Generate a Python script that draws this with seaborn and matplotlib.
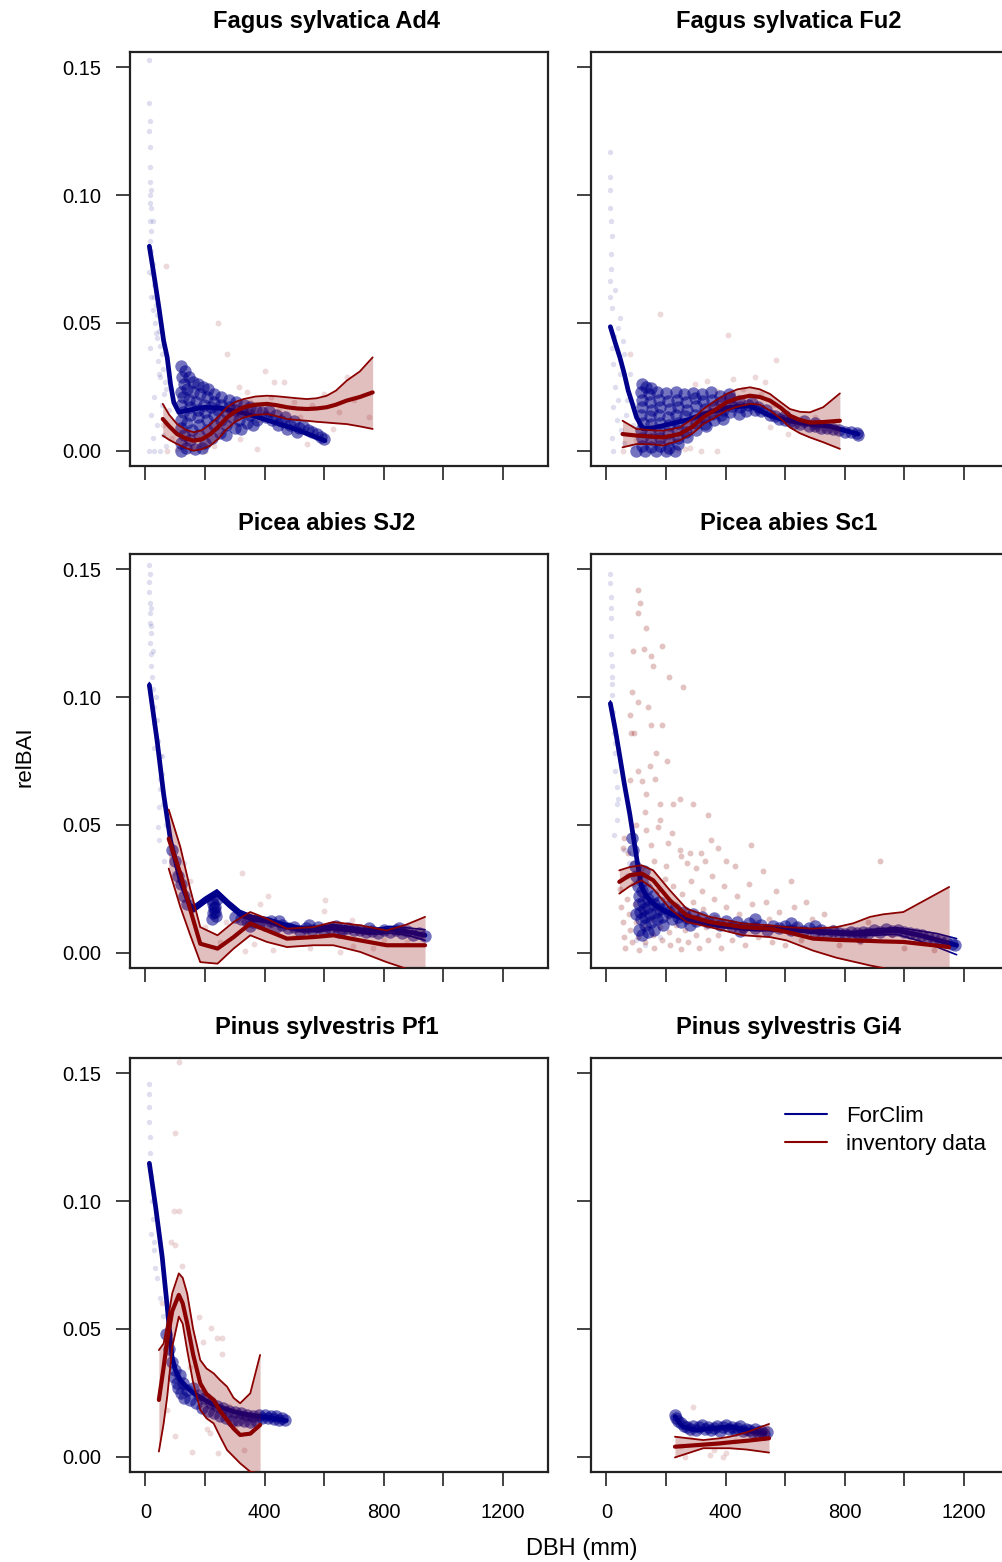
import matplotlib
matplotlib.use("Agg")
import matplotlib.pyplot as plt
import seaborn as sns
import pandas as pd
from matplotlib.lines import Line2D

# ---------------- text / axes ----------------
TITLES = ["Fagus sylvatica Ad4", "Fagus sylvatica Fu2",
          "Picea abies SJ2", "Picea abies Sc1",
          "Pinus sylvestris Pf1", "Pinus sylvestris Gi4"]
X_TICKS = [0, 200, 400, 600, 800, 1000, 1200]
X_TICK_LABELS = ["0", "", "400", "", "800", "", "1200"]
Y_TICKS = [0.0, 0.05, 0.10, 0.15]
Y_TICK_LABELS = ["0.00", "0.05", "0.10", "0.15"]
LEGEND_LABELS = ["ForClim", "inventory data"]

# ---------------- Ad4 ----------------
AD4_BLUE_SPARSE = [(12,0.153),(12,0.136),(15,0.129),(13,0.125),(14,0.119),(14,0.111),(15,0.105),(16,0.100),
    (17,0.095),(16,0.090),(18,0.086),(15,0.082),(20,0.078),(25,0.073),(22,0.069),(28,0.065),(30,0.060),
    (35,0.057),(40,0.053),(32,0.050),(45,0.047),(38,0.044),(50,0.041),(55,0.038),(42,0.035),(60,0.032),
    (48,0.029),(65,0.027),(70,0.024),(30,0.021),(55,0.018),(80,0.016),(20,0.014),(40,0.010),(60,0.006),
    (12,0.0),(30,0.0),(50,0.0),(25,0.005),(70,0.002),(15,0.040),(20,0.060),(25,0.090),(12,0.070),
    (18,0.102),(14,0.097),(26,0.055),(34,0.046),(45,0.030),(62,0.022)]
AD4_BLUE_DENSE = [(118,0.033),(132,0.031),(121,0.029),(145,0.029),(160,0.027),(128,0.026),(175,0.026),
    (192,0.025),(140,0.024),(210,0.024),(118,0.023),(158,0.023),(230,0.022),(182,0.022),(255,0.021),
    (125,0.021),(205,0.021),(145,0.020),(280,0.020),(170,0.019),(230,0.019),(120,0.018),(305,0.019),
    (195,0.018),(255,0.018),(150,0.017),(330,0.018),(280,0.017),(220,0.017),(350,0.017),(125,0.015),
    (175,0.016),(245,0.016),(300,0.016),(370,0.016),(200,0.015),(150,0.014),(270,0.015),(325,0.015),
    (390,0.015),(230,0.014),(120,0.012),(175,0.013),(350,0.014),(290,0.013),(205,0.012),(255,0.012),
    (140,0.011),(315,0.012),(375,0.012),(405,0.013),(180,0.010),(230,0.010),(270,0.010),(120,0.009),
    (340,0.011),(155,0.008),(205,0.008),(300,0.009),(250,0.007),(130,0.006),(180,0.006),(225,0.005),
    (120,0.003),(150,0.004),(200,0.003),(135,0.001),(165,0.0005),(120,0.0),(190,0.001),(270,0.006),
    (320,0.0085),(360,0.010),(425,0.012),(440,0.014),(455,0.0115),(470,0.013),(485,0.010),(500,0.0115),
    (515,0.009),(530,0.0095),(545,0.008),(560,0.0075),(575,0.0065),(590,0.0055),(600,0.0045),
    (445,0.010),(475,0.0085),(510,0.0075),(415,0.0155)]
AD4_RED_PTS = [(70,0.0724),(242,0.0498),(274,0.038),(400,0.031),(430,0.027),(464,0.0267),(676,0.0287),
    (374,0.0007),(542,0.0026),(631,0.0085),(313,0.025),(341,0.0228),(318,0.0046),(73,0.0),(106,0.0007),
    (150,0.0),(60,0.010),(90,0.005),(120,0.001),(180,0.004),(200,0.0),(250,0.006),(280,0.015),(300,0.010),
    (350,0.019),(380,0.012),(420,0.021),(450,0.016),(500,0.019),(520,0.013),(560,0.018),(600,0.022),
    (650,0.015),(700,0.020),(750,0.013),(230,0.002),(160,0.001)]
AD4_BLUE_FIT_X = [13,28,45,61,73,84,95,112,150,200,260,320,397,440,486,540,603]
AD4_BLUE_FIT_Y = [0.080,0.0691,0.0561,0.043,0.0365,0.0261,0.0189,0.015,0.016,0.017,0.0165,0.015,0.0124,
    0.0108,0.0091,0.0068,0.0039]
AD4_RED_X = [58,80,106,135,162,190,218,246,274,300,330,370,408,440,475,510,542,575,609,640,676,720,763]
AD4_RED_FIT = [0.0124,0.0095,0.0065,0.0048,0.0039,0.0045,0.0065,0.0095,0.013,0.0152,0.017,0.018,0.0183,
    0.0178,0.017,0.0165,0.0163,0.0165,0.017,0.018,0.0196,0.021,0.0228]
AD4_RED_HI = [0.0183,0.0140,0.0104,0.0082,0.0072,0.0080,0.0104,0.0135,0.017,0.0190,0.0202,0.0212,0.0215,
    0.0213,0.0209,0.0205,0.0202,0.0205,0.0215,0.0235,0.0274,0.031,0.0365]
AD4_RED_LO = [0.0059,0.0042,0.0026,0.0010,0.000,0.0006,0.002,0.0048,0.0085,0.0112,0.013,0.0140,0.0143,
    0.0135,0.0124,0.012,0.0117,0.0113,0.011,0.0107,0.0104,0.0095,0.0085]

# ---------------- Fu2 ----------------
FU2_BLUE_SPARSE = [(13,0.117),(13,0.107),(13,0.102),(13,0.095),(15,0.090),(18,0.084),(15,0.077),
    (13,0.0665),(28,0.063),(13,0.060),(17,0.056),(45,0.052),(40,0.048),(55,0.043),(22,0.034),(45,0.030),
    (22,0.017),(17,0.005),(22,0.0),(30,0.025),(60,0.038),(35,0.012),(50,0.008),(70,0.020),(25,0.045),
    (80,0.030),(60,0.003),(14,0.071),(20,0.040),(40,0.020),(65,0.014),(90,0.010),(85,0.002),(100,0.018)]
FU2_BLUE_DENSE = [(118,0.026),(132,0.025),(150,0.0245),(115,0.023),(142,0.022),(170,0.023),(200,0.0225),
    (232,0.023),(262,0.022),(290,0.0225),(322,0.022),(352,0.023),(380,0.0215),(410,0.022),(118,0.020),
    (146,0.019),(176,0.020),(205,0.0195),(236,0.020),(266,0.019),(296,0.0205),(325,0.0195),(355,0.020),
    (386,0.019),(415,0.0205),(446,0.0195),(120,0.017),(152,0.016),(180,0.017),(212,0.0165),(240,0.017),
    (270,0.016),(300,0.0175),(330,0.0165),(362,0.017),(390,0.016),(420,0.0175),(450,0.017),(476,0.018),
    (115,0.014),(147,0.0135),(175,0.014),(205,0.013),(235,0.014),(265,0.0135),(296,0.014),(326,0.013),
    (355,0.0145),(385,0.014),(415,0.015),(445,0.0145),(470,0.0155),(122,0.011),(150,0.0105),(180,0.011),
    (210,0.010),(240,0.011),(270,0.0105),(300,0.011),(330,0.0105),(362,0.012),(392,0.0125),(116,0.008),
    (146,0.0075),(176,0.008),(206,0.007),(236,0.008),(266,0.0075),(300,0.008),(335,0.0095),(118,0.005),
    (150,0.0045),(180,0.005),(210,0.004),(240,0.005),(272,0.0055),(120,0.002),(150,0.0015),(180,0.002),
    (210,0.001),(240,0.0025),(100,0.0),(130,0.0),(165,0.0),(200,0.0),(230,0.0),
    (490,0.0185),(500,0.016),(510,0.017),(520,0.0155),(535,0.016),(550,0.014),(565,0.0135),(580,0.0125),
    (600,0.012),(615,0.0115),(630,0.011),(650,0.0105),(665,0.0115),(680,0.0098),(700,0.0095),(720,0.009),
    (740,0.0088),(760,0.0085),(780,0.008),(800,0.0075),(820,0.0072),(840,0.0068),(845,0.0062),
    (600,0.0135),(700,0.011)]
FU2_RED_PTS = [(179,0.0535),(409,0.0453),(568,0.0356),(78,0.0378),(498,0.0287),(532,0.0267),(425,0.028),
    (297,0.026),(336,0.0274),(370,0.0235),(549,0.0091),(610,0.0065),(319,0.0),(370,0.0),(263,0.0007),
    (213,0.0007),(56,0.0),(100,0.004),(150,0.010),(250,0.012),(320,0.015),(420,0.020),(460,0.024),
    (520,0.022),(560,0.018),(640,0.012),(700,0.013),(760,0.010),(200,0.0),(280,0.001),(240,0.0003)]
FU2_BLUE_FIT_X = [13,30,45,60,73,88,101,123,160,213,270,325,370,414,482,549,600,661,750,845]
FU2_BLUE_FIT_Y = [0.0485,0.042,0.0365,0.030,0.0235,0.018,0.013,0.0085,0.009,0.0104,0.012,0.0143,0.0157,
    0.017,0.0176,0.0137,0.012,0.0107,0.0095,0.0065]
FU2_RED_X = [54,101,150,190,246,290,325,365,403,440,482,515,549,585,616,650,683,728,784]
FU2_RED_FIT = [0.0065,0.0059,0.0055,0.0052,0.0065,0.0095,0.013,0.016,0.0189,0.0205,0.0215,0.0210,0.0196,
    0.0168,0.0137,0.0120,0.011,0.0112,0.0117]
FU2_RED_HI = [0.0117,0.0085,0.008,0.0078,0.0091,0.0125,0.0163,0.0195,0.0222,0.024,0.0248,0.0240,0.0222,
    0.019,0.0163,0.0152,0.015,0.017,0.0224]
FU2_RED_LO = [0.0013,0.0026,0.0025,0.002,0.004,0.0068,0.0104,0.013,0.0157,0.0172,0.0183,0.018,0.0157,
    0.0125,0.0091,0.0068,0.0052,0.0033,0.0007]

# ---------------- SJ2 ----------------
SJ2_BLUE_SPARSE = [(13,0.1517),(14,0.148),(13,0.141),(15,0.137),(15,0.133),(15,0.129),(17,0.125),
    (15,0.121),(17,0.117),(20,0.112),(22,0.108),(25,0.103),(30,0.096),(39,0.091),(42,0.083),(48,0.077),
    (56,0.077),(56,0.070),(48,0.064),(45,0.057),(41,0.049),(45,0.044),(30,0.090),(28,0.080),(61,0.036),
    (95,0.031),(128,0.035),(150,0.0179),(20,0.128),(25,0.118),(35,0.100),(50,0.068),(60,0.058),(70,0.050),
    (12,0.145),(18,0.135)]
SJ2_BLUE_DENSE = [(222,0.0205),(226,0.019),(230,0.0175),(233,0.016),(238,0.0145),(228,0.0155),(235,0.018),
    (240,0.021),(225,0.013),(90,0.040),(100,0.036),(110,0.030),(120,0.027),(130,0.022),(140,0.019),
    (300,0.014),(320,0.013),(340,0.0125),(360,0.012),(380,0.0115),(400,0.011),(420,0.0125),(440,0.010),
    (460,0.011),(480,0.0095),(500,0.010),(520,0.0085),(540,0.0095),(560,0.009),(580,0.010),(600,0.0085),
    (620,0.0095),(640,0.0105),(660,0.009),(680,0.0098),(700,0.0088),(720,0.009),(740,0.008),(760,0.0085),
    (780,0.0078),(800,0.0088),(820,0.0082),(840,0.009),(860,0.0078),(880,0.0085),(900,0.007),(920,0.0075),
    (940,0.0065),(350,0.0105),(450,0.0125),(550,0.011),(650,0.008),(750,0.0095),(850,0.0095)]
SJ2_RED_PTS = [(324,0.0313),(413,0.022),(383,0.019),(603,0.0208),(600,0.0163),(693,0.0127),(428,0.0009),
    (335,0.0007),(654,0.0003),(363,0.0035),(765,0.002),(698,0.0025),(553,0.002),(270,0.012),(500,0.006),
    (800,0.005),(880,0.004),(150,0.028),(200,0.010),(250,0.004)]
SJ2_BLUE_FIT_X = [13,39,61,84,117,151,162,200,240,280,318,360,408,460,520,580,631,690,743,790,821,880,939]
SJ2_BLUE_FIT_Y = [0.1047,0.083,0.062,0.044,0.028,0.0179,0.0172,0.0205,0.0234,0.019,0.0153,0.0135,0.0127,
    0.0108,0.0092,0.0092,0.010,0.0092,0.0083,0.0085,0.009,0.0082,0.0068]
SJ2_BLUE_HI = [0.1057,0.084,0.063,0.045,0.029,0.0191,0.0184,0.0217,0.0246,0.0202,0.0165,0.0145,0.0137,
    0.0118,0.0102,0.0102,0.011,0.0102,0.0093,0.0097,0.0103,0.0097,0.0090]
SJ2_BLUE_LO = [0.1037,0.082,0.061,0.043,0.027,0.0167,0.016,0.0193,0.0222,0.0178,0.0141,0.0125,0.0117,
    0.0098,0.0082,0.0082,0.009,0.0082,0.0073,0.0073,0.0077,0.0068,0.0048]
SJ2_RED_X = [78,117,150,184,242,296,352,408,475,564,631,721,810,877,939]
SJ2_RED_FIT = [0.0446,0.031,0.017,0.0035,0.0016,0.0061,0.0114,0.0087,0.0055,0.0061,0.0068,0.0048,0.0029,
    0.0029,0.0029]
SJ2_RED_HI = [0.056,0.0414,0.025,0.010,0.0068,0.012,0.0159,0.0133,0.0094,0.010,0.012,0.0107,0.0087,0.0110,
    0.014]
SJ2_RED_LO = [0.0329,0.0179,0.007,-0.0037,-0.0043,0.0016,0.0068,0.0042,0.0022,0.0029,0.0029,0.0003,
    -0.0037,-0.0063,-0.007]

# ---------------- Sc1 ----------------
SC1_BLUE_SPARSE = [(13,0.148),(13,0.1445),(15,0.1347),(15,0.131),(15,0.124),(15,0.117),(17,0.112),
    (17,0.105),(17,0.101),(22,0.094),(25,0.086),(28,0.078),(28,0.071),(34,0.065),(34,0.058),(34,0.052),
    (26,0.046),(15,0.139),(20,0.108),(30,0.082),(40,0.060),(60,0.040),(75,0.035),(100,0.005),(130,0.003),
    (180,0.006)]
SC1_BLUE_DENSE = [(100,0.030),(105,0.026),(108,0.022),(110,0.019),(112,0.016),(115,0.013),(118,0.028),
    (120,0.024),(122,0.020),(125,0.017),(128,0.014),(130,0.011),(135,0.025),(138,0.021),(140,0.018),
    (145,0.015),(150,0.012),(155,0.022),(160,0.019),(165,0.016),(170,0.013),(175,0.020),(180,0.017),
    (185,0.014),(190,0.011),(200,0.018),(210,0.016),(220,0.013),(230,0.017),(240,0.014),(250,0.012),
    (260,0.016),(270,0.0135),(280,0.011),(290,0.015),(300,0.0125),(95,0.034),(100,0.015),(110,0.009),
    (120,0.007),(140,0.008),(125,0.032),(90,0.040),(85,0.045),(160,0.009),
    (320,0.014),(340,0.012),(360,0.0135),(380,0.011),(400,0.0125),(420,0.0105),(440,0.012),(460,0.010),
    (480,0.0115),(500,0.0095),(520,0.011),(540,0.009),(560,0.0105),(580,0.0095),(600,0.0105),(620,0.009),
    (640,0.010),(660,0.0085),(680,0.0095),(700,0.008),(720,0.009),(740,0.0075),(760,0.0085),(780,0.0078),
    (800,0.0072),(820,0.008),(840,0.0075),(860,0.0082),(880,0.0078),(900,0.0088),(920,0.008),(940,0.0092),
    (960,0.0085),(980,0.009),(1000,0.0082),(1020,0.0078),(1040,0.0072),(1060,0.0068),(1080,0.006),
    (1100,0.0055),(1120,0.005),(1140,0.0042),(1160,0.0035),(1170,0.003),(700,0.0105),(850,0.006),
    (500,0.013),(450,0.0085),(620,0.0115)]
SC1_RED_PTS = [(106,0.142),(112,0.137),(106,0.133),(134,0.127),(90,0.118),(125,0.119),(188,0.120),
    (151,0.116),(157,0.112),(209,0.108),(258,0.104),(86,0.102),(106,0.098),(140,0.096),(185,0.089),
    (151,0.089),(78,0.093),(84,0.086),(92,0.086),(168,0.078),(146,0.073),(202,0.075),(106,0.071),(78,0.0675),
    (118,0.067),(162,0.068),(134,0.062),(179,0.058),(224,0.058),(246,0.060),(291,0.058),(341,0.054),
    (56,0.041),(73,0.039),(151,0.042),(207,0.043),(246,0.040),(280,0.039),(319,0.039),(375,0.041),
    (487,0.042),(134,0.048),(173,0.049),
    (45,0.025),(50,0.018),(55,0.012),(60,0.006),(62,0.002),(70,0.021),(75,0.015),(80,0.009),(85,0.004),
    (90,0.027),(95,0.019),(100,0.012),(105,0.006),(110,0.001),(115,0.023),(120,0.016),(125,0.010),
    (130,0.004),(140,0.027),(145,0.020),(150,0.013),(155,0.007),(160,0.002),(170,0.024),(175,0.017),
    (180,0.010),(185,0.005),(195,0.029),(200,0.021),(205,0.014),(210,0.008),(215,0.003),(225,0.026),
    (230,0.019),(235,0.011),(240,0.005),(250,0.0015),(255,0.023),(260,0.016),(265,0.009),(275,0.004),
    (285,0.028),(290,0.020),(295,0.013),(300,0.007),(310,0.002),(320,0.024),(325,0.017),(335,0.010),
    (340,0.005),(355,0.030),(360,0.021),(365,0.014),(375,0.007),(385,0.002),(395,0.026),(400,0.018),
    (410,0.011),(420,0.005),(430,0.034),(440,0.022),(445,0.015),(455,0.008),(465,0.003),(480,0.027),
    (490,0.019),(500,0.012),(510,0.006),(525,0.032),(535,0.020),(545,0.013),(555,0.004),(570,0.024),
    (580,0.016),(590,0.009),(600,0.003),(620,0.028),(630,0.018),(640,0.011),(655,0.005),(670,0.020),
    (690,0.013),(710,0.006),(730,0.015),(760,0.010),(780,0.003),(810,0.008),(850,0.004),(880,0.012),
    (920,0.036),(960,0.007),(1000,0.002),(1050,0.004),(1100,0.001),(70,0.030),(90,0.035),(120,0.033),
    (160,0.036),(200,0.034),(250,0.038),(300,0.033),(350,0.044),(400,0.036),(60,0.045),(100,0.050),
    (130,0.055),(180,0.052),(220,0.047),(270,0.035),(330,0.036)]
SC1_BLUE_FIT_X = [13,30,45,60,78,92,106,118,135,157,185,213,245,280,330,381,440,493,549,605,660,717,773,
    829,900,974,1053,1110,1176]
SC1_BLUE_FIT_Y = [0.0975,0.087,0.0766,0.066,0.0544,0.044,0.0336,0.0257,0.022,0.0192,0.017,0.0153,0.014,
    0.0127,0.0116,0.0107,0.010,0.0094,0.0094,0.0094,0.0088,0.0081,0.0078,0.0074,0.008,0.0087,0.0068,
    0.005,0.0029]
SC1_BLUE_HI = [0.0985,0.0878,0.0774,0.0668,0.0552,0.0448,0.0344,0.0265,0.0228,0.02,0.0178,0.0161,0.0148,
    0.0135,0.0124,0.0115,0.0108,0.0102,0.0102,0.0102,0.0096,0.0089,0.0086,0.0083,0.0092,0.0098,0.0085,
    0.0075,0.0055]
SC1_BLUE_LO = [0.0965,0.0862,0.0758,0.0652,0.0536,0.0432,0.0328,0.0249,0.0212,0.0184,0.0162,0.0145,0.0132,
    0.0119,0.0108,0.0099,0.0092,0.0086,0.0086,0.0086,0.008,0.0073,0.007,0.0066,0.0068,0.0072,0.0045,
    0.0022,-0.0008]
SC1_RED_X = [43,78,118,157,213,269,347,459,549,605,694,773,829,885,929,997,1151]
SC1_RED_FIT = [0.0277,0.0303,0.031,0.0283,0.0205,0.0146,0.012,0.010,0.0094,0.0081,0.0055,0.005,0.0048,
    0.0046,0.0044,0.0042,0.0022]
SC1_RED_HI = [0.0322,0.0335,0.0342,0.0322,0.0244,0.0172,0.014,0.0114,0.0107,0.010,0.0094,0.010,0.0115,
    0.014,0.015,0.0159,0.0257]
SC1_RED_LO = [0.0231,0.026,0.0283,0.025,0.0172,0.012,0.010,0.0068,0.0061,0.0048,0.0008,-0.0020,-0.0035,
    -0.005,-0.0060,-0.008,-0.012]

# ---------------- Pf1 ----------------
PF1_BLUE_SPARSE = [(13,0.146),(13,0.142),(13,0.137),(13,0.131),(15,0.125),(15,0.119),(17,0.110),(22,0.100),
    (25,0.093),(20,0.087),(28,0.084),(30,0.081),(33,0.074),(40,0.070),(50,0.062),(60,0.055)]
PF1_BLUE_DENSE = [(70,0.048),(80,0.042),(90,0.037),(95,0.031),(100,0.034),(105,0.029),(110,0.027),
    (115,0.032),(120,0.025),(125,0.029),(130,0.023),(140,0.026),(150,0.022),(160,0.027),(170,0.021),
    (180,0.024),(190,0.019),(200,0.023),(210,0.018),(220,0.021),(230,0.017),(240,0.020),(250,0.016),
    (260,0.019),(270,0.015),(280,0.018),(290,0.014),(300,0.0175),(310,0.0145),(320,0.017),(330,0.014),
    (340,0.0165),(350,0.0135),(360,0.016),(370,0.014),(380,0.0165),(390,0.015),(400,0.0165),(410,0.015),
    (420,0.016),(430,0.0148),(440,0.0158),(450,0.0145),(460,0.015),(470,0.0142)]
PF1_RED_PTS = [(114,0.1546),(100,0.1265),(95,0.0963),(112,0.0963),(86,0.0841),(100,0.0828),(123,0.0746),
    (179,0.0548),(221,0.0502),(240,0.0463),(257,0.0463),(257,0.040),(192,0.045),(100,0.0081),(156,0.002),
    (243,0.0013),(330,0.0026),(218,0.0091),(207,0.011),(73,0.0183),(56,0.060),(150,0.035),(280,0.020),
    (300,0.012)]
PF1_BLUE_FIT_X = [13,34,56,73,89,100,117,140,162,190,218,260,296,340,385,430,473]
PF1_BLUE_FIT_Y = [0.1148,0.0978,0.0783,0.0587,0.0391,0.034,0.030,0.027,0.0248,0.0228,0.0209,0.019,0.0176,
    0.0165,0.0157,0.015,0.0141]
PF1_RED_X = [45,61,73,90,112,125,140,160,184,205,229,250,274,296,318,352,385]
PF1_RED_FIT = [0.0222,0.035,0.0457,0.057,0.0633,0.060,0.0522,0.040,0.0287,0.0245,0.0222,0.018,0.0143,
    0.011,0.0085,0.009,0.0124]
PF1_RED_HI = [0.0417,0.0443,0.052,0.064,0.0717,0.070,0.0639,0.050,0.0378,0.0345,0.0326,0.030,0.0274,
    0.023,0.0209,0.0248,0.0398]
PF1_RED_LO = [0.002,0.013,0.0235,0.043,0.0548,0.052,0.0417,0.029,0.0183,0.015,0.013,0.008,0.0026,0.000,
    -0.0026,-0.0059,-0.0065]

# ---------------- Gi4 ----------------
GI4_BLUE_DENSE = [(230,0.0165),(235,0.0150),(240,0.014),(250,0.013),(260,0.012),(270,0.0115),(280,0.011),
    (290,0.0120),(300,0.0105),(310,0.0115),(320,0.0125),(330,0.011),(340,0.0118),(350,0.0105),(360,0.0112),
    (370,0.012),(380,0.010),(390,0.0115),(400,0.0125),(410,0.011),(420,0.0118),(430,0.0105),(440,0.0113),
    (450,0.012),(460,0.0102),(470,0.011),(480,0.0105),(490,0.0098),(500,0.0108),(510,0.0095),(520,0.0102),
    (530,0.009),(540,0.0095)]
GI4_RED_PTS = [(291,0.0196),(263,0.0),(347,0.0007),(392,0.0),(400,0.0015),(285,0.0085),(360,0.0025),
    (430,0.006),(500,0.008),(250,0.004)]
GI4_BLUE_FIT_X = [230,245,257,280,302,330,358,386,414,442,470,500,532]
GI4_BLUE_FIT_Y = [0.0157,0.0133,0.0117,0.011,0.0104,0.0108,0.0111,0.0114,0.0117,0.0111,0.0104,0.0098,0.0091]
GI4_RED_X = [230,325,381,414,470,546]
GI4_RED_FIT = [0.0039,0.0047,0.0052,0.0056,0.0062,0.0072]
GI4_RED_HI = [0.0078,0.0065,0.0072,0.0078,0.0095,0.0128]
GI4_RED_LO = [-0.0003,0.0033,0.0033,0.0033,0.0028,0.0016]

# ---------------- style ----------------
BLUE = "#00008B"
RED = "#8B0000"
sns.set_theme(style="ticks")
plt.rcParams['font.family'] = ['Liberation Sans', 'DejaVu Sans']
plt.rcParams.update({"text.color": "black", "axes.labelcolor": "black", "xtick.color": "black",
                     "ytick.color": "black", "axes.edgecolor": "black"})

W, H = 1003, 1562
fig = plt.figure(figsize=(W / 100, H / 100), dpi=100)

COL_LEFT = [130, 591]
AX_W = 418
ROW_TOP = [52, 554, 1058]
AX_H = 414


def pts_df(pairs):
    return pd.DataFrame(pairs, columns=["dbh", "relbai"])


def line_df(xs, ys):
    return pd.DataFrame({"dbh": xs, "relbai": ys})


PANELS = [
    dict(bs=AD4_BLUE_SPARSE, bd=AD4_BLUE_DENSE, rp=AD4_RED_PTS, bfx=AD4_BLUE_FIT_X, bfy=AD4_BLUE_FIT_Y,
         bhi=None, blo=None, rx=AD4_RED_X, rf=AD4_RED_FIT, rhi=AD4_RED_HI, rlo=AD4_RED_LO, ra=0.15),
    dict(bs=FU2_BLUE_SPARSE, bd=FU2_BLUE_DENSE, rp=FU2_RED_PTS, bfx=FU2_BLUE_FIT_X, bfy=FU2_BLUE_FIT_Y,
         bhi=None, blo=None, rx=FU2_RED_X, rf=FU2_RED_FIT, rhi=FU2_RED_HI, rlo=FU2_RED_LO, ra=0.15),
    dict(bs=SJ2_BLUE_SPARSE, bd=SJ2_BLUE_DENSE, rp=SJ2_RED_PTS, bfx=SJ2_BLUE_FIT_X, bfy=SJ2_BLUE_FIT_Y,
         bhi=SJ2_BLUE_HI, blo=SJ2_BLUE_LO, rx=SJ2_RED_X, rf=SJ2_RED_FIT, rhi=SJ2_RED_HI, rlo=SJ2_RED_LO, ra=0.15),
    dict(bs=SC1_BLUE_SPARSE, bd=SC1_BLUE_DENSE, rp=SC1_RED_PTS, bfx=SC1_BLUE_FIT_X, bfy=SC1_BLUE_FIT_Y,
         bhi=SC1_BLUE_HI, blo=SC1_BLUE_LO, rx=SC1_RED_X, rf=SC1_RED_FIT, rhi=SC1_RED_HI, rlo=SC1_RED_LO, ra=0.24),
    dict(bs=PF1_BLUE_SPARSE, bd=PF1_BLUE_DENSE, rp=PF1_RED_PTS, bfx=PF1_BLUE_FIT_X, bfy=PF1_BLUE_FIT_Y,
         bhi=None, blo=None, rx=PF1_RED_X, rf=PF1_RED_FIT, rhi=PF1_RED_HI, rlo=PF1_RED_LO, ra=0.15),
    dict(bs=[], bd=GI4_BLUE_DENSE, rp=GI4_RED_PTS, bfx=GI4_BLUE_FIT_X, bfy=GI4_BLUE_FIT_Y,
         bhi=None, blo=None, rx=GI4_RED_X, rf=GI4_RED_FIT, rhi=GI4_RED_HI, rlo=GI4_RED_LO, ra=0.15),
]

TITLE_CX = [327, 789]

for i, p in enumerate(PANELS):
    r, c = divmod(i, 2)
    left = COL_LEFT[c] / W
    bottom = 1 - (ROW_TOP[r] + AX_H) / H
    ax = fig.add_axes([left, bottom, AX_W / W, AX_H / H])

    # blue fit drawn first, so that the dense point cloud covers it (as in the original)
    if p["bhi"] is not None:
        for band in (p["bhi"], p["blo"]):
            sns.lineplot(data=line_df(p["bfx"], band), x="dbh", y="relbai", color=BLUE, linewidth=1.2,
                         sort=False, estimator=None, ax=ax, zorder=2.2)
    sns.lineplot(data=line_df(p["bfx"], p["bfy"]), x="dbh", y="relbai", color=BLUE, linewidth=3.4,
                 sort=False, estimator=None, ax=ax, zorder=1.5)

    # scatter points
    if p["bs"]:
        sns.scatterplot(data=pts_df(p["bs"]), x="dbh", y="relbai", color=BLUE, alpha=0.13, s=15,
                        linewidth=0, ax=ax, zorder=1)
    sns.scatterplot(data=pts_df(p["bd"]), x="dbh", y="relbai", color=BLUE, alpha=0.55, s=80,
                    linewidth=0, ax=ax, zorder=2)
    sns.scatterplot(data=pts_df(p["rp"]), x="dbh", y="relbai", color=RED, alpha=p["ra"], s=18,
                    linewidth=0, ax=ax, zorder=1)

    # red confidence band
    ax.fill_between(p["rx"], p["rlo"], p["rhi"], color=RED, alpha=0.25, linewidth=0, zorder=2.5)

    # red fit + band edges
    for band in (p["rhi"], p["rlo"]):
        sns.lineplot(data=line_df(p["rx"], band), x="dbh", y="relbai", color=RED, linewidth=1.3,
                     sort=False, estimator=None, ax=ax, zorder=4)
    sns.lineplot(data=line_df(p["rx"], p["rf"]), x="dbh", y="relbai", color=RED, linewidth=3.0,
                 sort=False, estimator=None, ax=ax, zorder=4)

    ax.set_xlim(-52, 1352)
    ax.set_ylim(-0.006, 0.156)
    ax.set_xticks(X_TICKS)
    ax.set_yticks(Y_TICKS)
    ax.set_xticklabels(X_TICK_LABELS if r == 2 else [""] * len(X_TICKS))
    ax.set_yticklabels(Y_TICK_LABELS if c == 0 else [""] * len(Y_TICKS))
    ax.set_xlabel("")
    ax.set_ylabel("")
    ax.tick_params(axis="both", direction="out", length=10, width=1.2, colors="#222222",
                   labelcolor="black", labelsize=14.5)
    ax.tick_params(axis="y", pad=11)
    ax.tick_params(axis="x", pad=12)
    for s in ax.spines.values():
        s.set_visible(True)
        s.set_linewidth(1.6)
        s.set_color("#222222")
    if ax.get_legend() is not None:
        ax.get_legend().remove()

    fig.text(TITLE_CX[c] / W, 1 - (ROW_TOP[r] - 24) / H, TITLES[i], ha="center", va="baseline",
             fontsize=17, fontweight="bold", color="black")

    if i == 5:
        handles = [Line2D([], [], color=BLUE, linewidth=1.5), Line2D([], [], color=RED, linewidth=1.5)]
        ax.legend(handles=handles, labels=LEGEND_LABELS, frameon=False, fontsize=16,
                  handlelength=1.9, handletextpad=0.85, labelspacing=0.3, borderpad=0,
                  borderaxespad=0, loc="upper left", labelcolor="black",
                  bbox_to_anchor=(785 / W, 1 - 1106 / H), bbox_transform=fig.transFigure)

fig.text(25 / W, 1 - 757 / H, "relBAI", rotation=90, ha="center", va="center", fontsize=16)
fig.text(582 / W, 1 - 1549 / H, "DBH (mm)", ha="center", va="center", fontsize=17)

fig.savefig("out.png", dpi=100)
